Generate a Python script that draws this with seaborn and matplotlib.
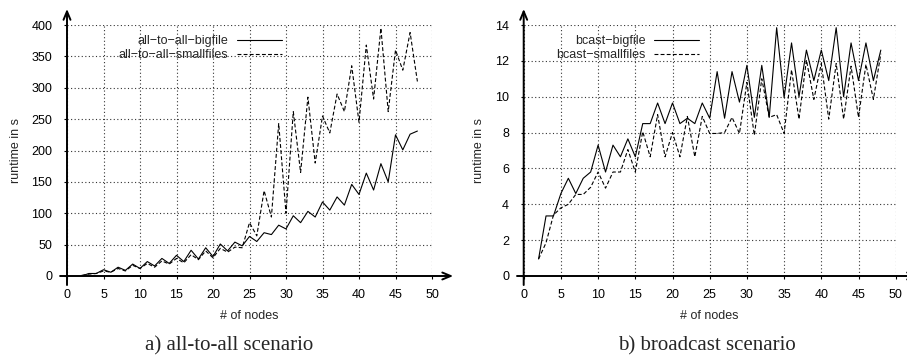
import pandas as pd
import matplotlib
matplotlib.use("Agg")
import matplotlib.pyplot as plt
import seaborn as sns

# number of nodes on the x axis
nodes = list(range(2, 49))

# runtime in s, all-to-all scenario
a2a_bigfile = [0, 4, 4, 10, 6, 14, 9, 19, 12, 23, 16, 28, 20, 33, 23, 41, 27, 45, 31, 51,
               40, 54, 48, 63, 55, 69, 66, 81, 75, 96, 85, 103, 94, 118, 105, 126, 113,
               146, 130, 164, 137, 179, 150, 225, 201, 226, 231]
a2a_smallfiles = [1, 3, 4, 8, 6, 12, 8, 17, 12, 20, 14, 24, 19, 28, 21, 34, 26, 40, 29, 44,
                  38, 46, 45, 85, 64, 136, 94, 243, 100, 262, 165, 285, 180, 255, 228, 290,
                  262, 335, 245, 368, 282, 395, 262, 360, 328, 388, 310]

# runtime in s, broadcast scenario
bcast_bigfile = [0.95, 3.35, 3.35, 4.6, 5.45, 4.6, 5.45, 5.8, 7.3, 5.8, 7.3, 6.65, 7.65, 6.65,
                 8.5, 8.5, 9.65, 8.5, 9.65, 8.5, 8.8, 8.5, 9.65, 8.8, 11.4, 8.8, 11.4, 9.7,
                 11.75, 8.85, 11.75, 8.85, 13.85, 9.95, 13.0, 10.0, 12.6, 10.9, 12.6, 10.9,
                 13.85, 10.0, 13.0, 10.9, 13.0, 10.9, 12.6]
bcast_smallfiles = [0.95, 1.85, 3.4, 3.8, 4.0, 4.55, 4.55, 4.95, 5.8, 4.9, 5.8, 5.8, 7.05, 5.8,
                    8.05, 6.65, 9.0, 6.65, 8.0, 6.65, 8.9, 6.65, 8.9, 7.95, 7.95, 8.0, 8.85,
                    7.95, 10.8, 7.85, 11.0, 8.85, 9.0, 7.95, 11.5, 8.75, 12.05, 9.85, 11.85,
                    8.75, 11.85, 8.75, 11.7, 8.85, 11.8, 9.85, 12.4]

xticks = list(range(0, 51, 5))
a2a_yticks = list(range(0, 401, 50))
bcast_yticks = list(range(0, 15, 2))

sns.set_style("white")
plt.rcParams['font.family'] = ['Liberation Sans', 'DejaVu Sans']

fig = plt.figure(figsize=(9.07, 3.59), dpi=100)
ax1 = fig.add_axes([67 / 907, 83 / 359, 365 / 907, 251 / 359])
ax2 = fig.add_axes([523.7 / 907, 83 / 359, 372 / 907, 251 / 359])


def draw_panel(ax, big, small, labels, yticks, legend_x, xarrow, ylabel_x):
    df = pd.DataFrame({'nodes': nodes, 'big': big, 'small': small})
    sns.lineplot(data=df, x='nodes', y='big', ax=ax, color='black', lw=0.8,
                 label=labels[0])
    sns.lineplot(data=df, x='nodes', y='small', ax=ax, color='black', lw=0.8,
                 linestyle=(0, (3.5, 2.0)), label=labels[1])

    ax.set_xlim(0, 50)
    ax.set_ylim(0, yticks[-1])
    ax.set_xticks(xticks)
    ax.set_yticks(yticks)
    for s in ax.spines.values():
        s.set_visible(False)
    ax.grid(True, linestyle=(0, (1, 2.2)), color='0.2', lw=0.8)
    ax.tick_params(direction='out', length=2.5, width=0.8, colors='black',
                   labelsize=9, left=True, bottom=True)
    ax.tick_params(axis='y', pad=8)
    ax.tick_params(axis='x', pad=6.5)

    ax.set_xlabel('# of nodes', fontsize=9)
    ax.set_ylabel('runtime in s', fontsize=9)
    ax.xaxis.set_label_coords(0.5, -0.135)
    ax.yaxis.set_label_coords(ylabel_x, 0.5)

    # gnuplot style zero axes with arrow heads
    arrow = dict(arrowstyle='->,head_length=0.6,head_width=0.25', lw=1.4,
                 color='black', shrinkA=0, shrinkB=0)
    ax.annotate('', xy=(xarrow[1], 0), xytext=(xarrow[0], 0), xycoords='axes fraction',
                arrowprops=arrow, annotation_clip=False)
    ax.annotate('', xy=(0, 1.064), xytext=(0, -0.036), xycoords='axes fraction',
                arrowprops=arrow, annotation_clip=False)

    ax.legend(loc='upper right', bbox_to_anchor=(legend_x, 0.96), frameon=False,
              markerfirst=False, fontsize=9, handlelength=3.6, handletextpad=0.7,
              labelspacing=0.15, borderpad=0, borderaxespad=0)


draw_panel(ax1, a2a_bigfile, a2a_smallfiles,
           ['all\u2212to\u2212all\u2212bigfile', 'all\u2212to\u2212all\u2212smallfiles'],
           a2a_yticks, 0.589, (-0.019, 1.058), -0.122)
draw_panel(ax2, bcast_bigfile, bcast_smallfiles,
           ['bcast\u2212bigfile', 'bcast\u2212smallfiles'],
           bcast_yticks, 0.471, (-0.018, 1.06), -0.105)

fig.text(229 / 907, 1 - 346 / 359, 'a) all-to-all scenario', ha='center', va='center',
         family='Liberation Serif', fontsize=15)
fig.text(707 / 907, 1 - 346 / 359, 'b) broadcast scenario', ha='center', va='center',
         family='Liberation Serif', fontsize=15)

fig.savefig('out.png', dpi=100)
